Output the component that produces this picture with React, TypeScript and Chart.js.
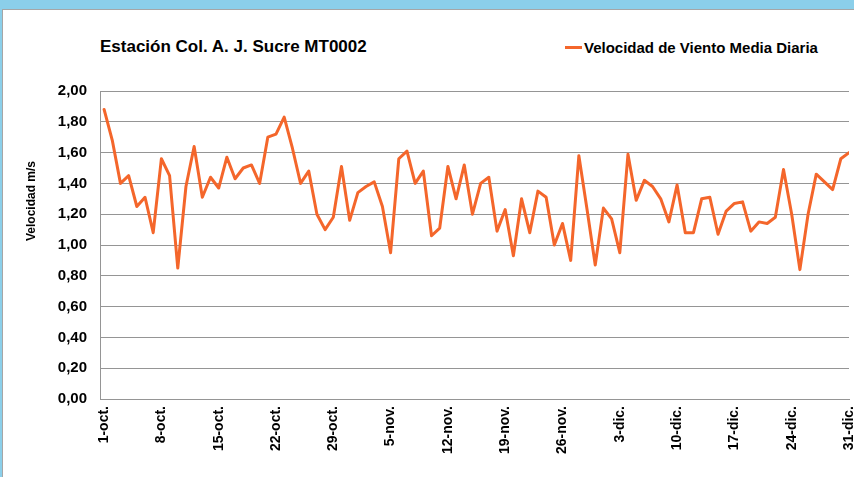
import React, { useEffect, useRef } from "react";
import { Chart, registerables } from "chart.js";

Chart.register(...registerables);

const chartTitle = "Estación Col. A. J. Sucre MT0002";
const seriesName = "Velocidad de Viento Media Diaria";
const yAxisTitle = "Velocidad m/s";

const monthNames = ["oct.", "nov.", "dic."];
const monthDays = [31, 30, 31];

const categories: string[] = [];
monthNames.forEach((m, mi) => {
  for (let d = 1; d <= monthDays[mi]; d++) categories.push(`${d}-${m}`);
});

const tickLabels = [
  "1-oct.", "8-oct.", "15-oct.", "22-oct.", "29-oct.", "5-nov.", "12-nov.",
  "19-nov.", "26-nov.", "3-dic.", "10-dic.", "17-dic.", "24-dic.", "31-dic.",
];

const octValues = [
  1.88, 1.68, 1.40, 1.45, 1.25, 1.31, 1.08, 1.56, 1.45, 0.85,
  1.38, 1.64, 1.31, 1.44, 1.37, 1.57, 1.43, 1.50, 1.52, 1.40,
  1.70, 1.72, 1.83, 1.63, 1.40, 1.48, 1.20, 1.10, 1.18, 1.51,
  1.16,
];
const novValues = [
  1.34, 1.38, 1.41, 1.25, 0.95, 1.56, 1.61, 1.40, 1.48, 1.06,
  1.11, 1.51, 1.30, 1.52, 1.20, 1.40, 1.44, 1.09, 1.23, 0.93,
  1.30, 1.08, 1.35, 1.31, 1.00, 1.14, 0.90, 1.58, 1.23, 0.87,
];
const dicValues = [
  1.24, 1.17, 0.95, 1.59, 1.29, 1.42, 1.38, 1.30, 1.15, 1.39,
  1.08, 1.08, 1.30, 1.31, 1.07, 1.22, 1.27, 1.28, 1.09, 1.15,
  1.14, 1.18, 1.49, 1.20, 0.84, 1.20, 1.46, 1.41, 1.36, 1.56,
  1.60,
];
const values = [...octValues, ...novValues, ...dicValues];

const yMin = 0;
const yMax = 2;
const yStep = 0.2;

const ORANGE = "#F4662B";
const GRID = "#959595";
const FONT = "'Liberation Sans', Arial, sans-serif";

export default function App() {
  const ref = useRef<HTMLCanvasElement | null>(null);

  useEffect(() => {
    if (!ref.current) return;
    const yTitlePlugin = {
      id: "yTitle",
      afterDraw(chart: any) {
        const ctx = chart.ctx;
        ctx.save();
        ctx.translate(32, 201);
        ctx.rotate(-Math.PI / 2);
        ctx.font = `bold 12px ${FONT}`;
        ctx.fillStyle = "#000";
        ctx.textAlign = "center";
        ctx.textBaseline = "middle";
        ctx.fillText(yAxisTitle, 0, 0);
        ctx.restore();
      },
    };
    const chart = new Chart(ref.current, {
      type: "line",
      data: {
        datasets: [
          {
            label: seriesName,
            data: values.map((v, i) => ({ x: i, y: v })),
            borderColor: ORANGE,
            backgroundColor: ORANGE,
            borderWidth: 3,
            borderJoinStyle: "round",
            borderCapStyle: "round",
            pointRadius: 0,
            tension: 0,
          },
        ],
      },
      options: {
        animation: false,
        responsive: false,
        devicePixelRatio: 1,
        layout: { padding: { left: 0, top: 91, right: 5, bottom: 0 } },
        plugins: { legend: { display: false }, title: { display: false }, tooltip: { enabled: false } },
        scales: {
          x: {
            type: "linear",
            min: -0.5,
            max: categories.length - 1,
            afterBuildTicks: (scale: any) => {
              scale.ticks = tickLabels.map((l) => ({ value: categories.indexOf(l) }));
            },
            afterFit: (scale: any) => {
              scale.height = 78;
              scale.paddingLeft = 0;
              scale.paddingRight = 0;
            },
            grid: { display: false, drawTicks: false },
            border: { display: true, color: GRID, width: 1 },
            ticks: {
              autoSkip: false,
              minRotation: 90,
              maxRotation: 90,
              padding: 7,
              color: "#000",
              font: { family: FONT, size: 14, weight: "bold" },
              callback: (v: any) => categories[Number(v)] ?? "",
            },
          },
          y: {
            min: yMin,
            max: yMax,
            afterFit: (scale: any) => {
              scale.width = 100;
            },
            grid: { color: GRID, lineWidth: 1, drawTicks: false },
            border: { display: true, color: GRID, width: 1 },
            ticks: {
              stepSize: yStep,
              padding: 13,
              color: "#000",
              font: { family: FONT, size: 15, weight: "bold" },
              callback: (v: any) => Number(v).toFixed(2).replace(".", ","),
            },
          },
        },
      },
      plugins: [yTitlePlugin],
    } as any);
    return () => chart.destroy();
  }, []);

  return (
    <div
      style={{
        position: "fixed",
        left: 0,
        top: 0,
        width: 854,
        height: 477,
        background: "#8BCFEA",
        overflow: "hidden",
        fontFamily: FONT,
      }}
    >
      <div
        style={{
          position: "absolute",
          left: 2,
          top: 9,
          width: 900,
          height: 520,
          background: "#fff",
          border: "1px solid #a6a6a6",
        }}
      />
      <div
        style={{
          position: "absolute",
          left: 100,
          top: 37,
          fontSize: 17,
          fontWeight: "bold",
          lineHeight: "20px",
          color: "#000",
          whiteSpace: "nowrap",
        }}
      >
        {chartTitle}
      </div>
      <div
        style={{
          position: "absolute",
          left: 565,
          top: 38,
          display: "flex",
          alignItems: "center",
          height: 18,
          whiteSpace: "nowrap",
        }}
      >
        <span style={{ display: "inline-block", width: 17, height: 3, background: ORANGE, marginRight: 2 }} />
        <span style={{ fontSize: 15, fontWeight: "bold", color: "#000" }}>{seriesName}</span>
      </div>
      <canvas ref={ref} width={854} height={477} style={{ position: "absolute", left: 0, top: 0, width: 854, height: 477 }} />
    </div>
  );
}
